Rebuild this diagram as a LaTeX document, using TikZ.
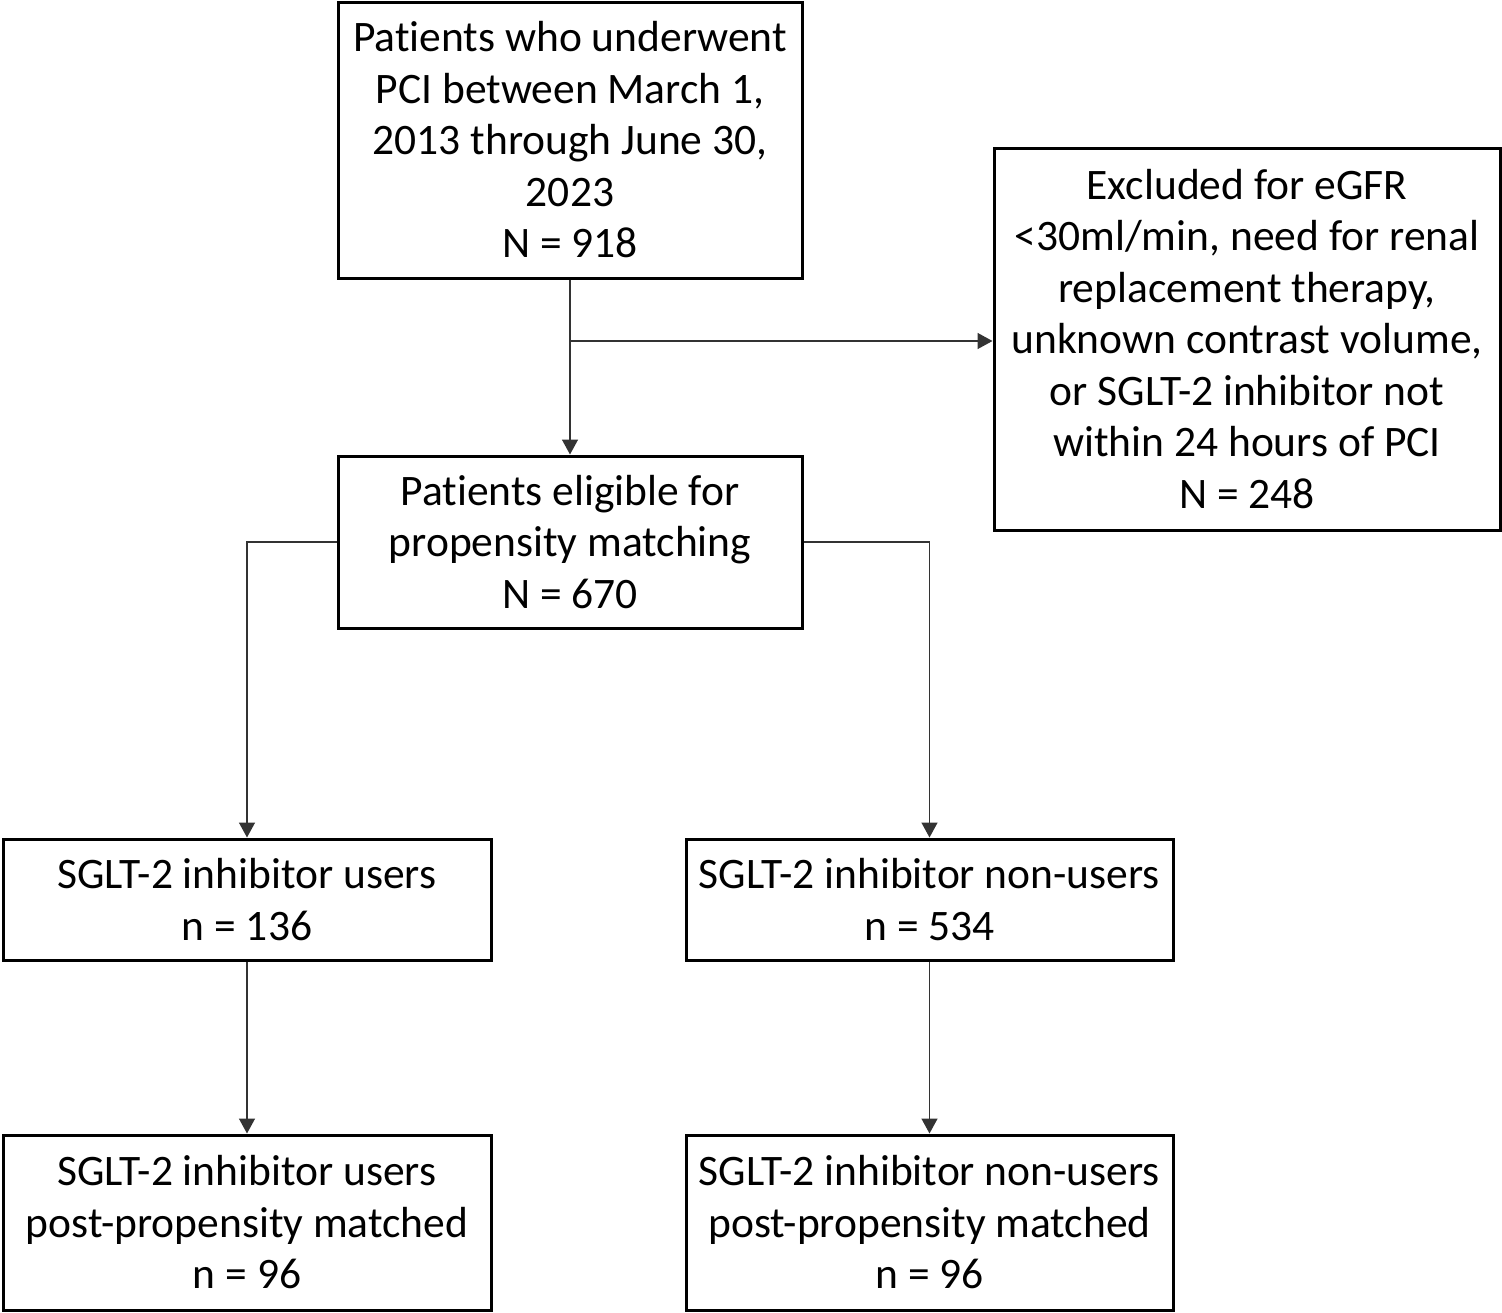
\documentclass[tikz,border=0pt]{standalone}
\usepackage{fontspec}
\setmainfont{Carlito}[Ligatures={NoCommon}]
\usetikzlibrary{arrows.meta}
\begin{document}
\begin{tikzpicture}[x=1pt,y=-1pt,
  box/.style={draw=black, line width=3pt, align=center, inner sep=0pt,
    font=\fontsize{43.5}{51.5}\selectfont},
  conn/.style={line width=1.5pt, draw=black!80},
  arr/.style={conn, -{Triangle[length=15pt,width=16pt]}}]
\useasboundingbox (0,0) rectangle (1502,1312);
\node[box, minimum width=464pt, minimum height=276pt] (pci) at (570,140)
  {Patients who underwent\\PCI between March 1,\\2013 through June 30,\\2023\\N = 918};
\node[box, minimum width=506pt, minimum height=382pt] (excl) at (1247,339)
  {Excluded for eGFR\\<30ml/min, need for renal\\replacement therapy,\\unknown contrast volume,\\or SGLT-2 inhibitor not\\within 24 hours of PCI\\N = 248};
\node[box, minimum width=464pt, minimum height=172pt] (elig) at (570,542)
  {Patients eligible for\\propensity matching\\N = 670};
\node[box, minimum width=488pt, minimum height=121pt] (users) at (247,899.5)
  {SGLT-2 inhibitor users\\n = 136};
\node[box, minimum width=487pt, minimum height=121pt] (nonusers) at (929.5,899.5)
  {SGLT-2 inhibitor non-users\\n = 534};
\node[box, minimum width=488pt, minimum height=175pt] (umatch) at (247,1222.5)
  {SGLT-2 inhibitor users\\post-propensity matched\\n = 96};
\node[box, minimum width=487pt, minimum height=175pt] (nmatch) at (929.5,1222.5)
  {SGLT-2 inhibitor non-users\\post-propensity matched\\n = 96};
\coordinate (br) at (570,341);
\draw[arr] (pci.south) -- (elig.north);
\draw[arr] (br) -- (br -| excl.west);
\draw[arr] (elig.west) -- (users.north |- elig.west) -- (users.north);
\draw[arr] (elig.east) -- (nonusers.north |- elig.east) -- (nonusers.north);
\draw[arr] (users.south) -- (umatch.north);
\draw[arr] (nonusers.south) -- (nmatch.north);
\end{tikzpicture}
\end{document}
